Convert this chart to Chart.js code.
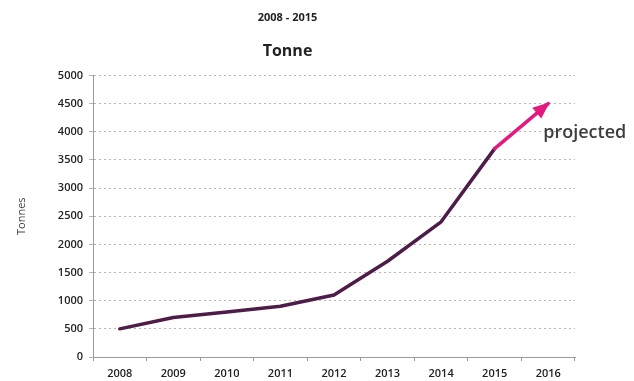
<!DOCTYPE html>
<html>
<head>
<meta charset="utf-8">
<script src="https://cdn.jsdelivr.net/npm/chart.js@4/dist/chart.umd.min.js"></script>
<style>
  html, body { margin: 0; padding: 0; background: #fff; }
  #wrap { width: 634px; height: 381px; }
</style>
</head>
<body>
<div id="wrap"><canvas id="chart"></canvas></div>
<script>
  // data
  var years = ['2008', '2009', '2010', '2011', '2012', '2013', '2014', '2015', '2016'];
  var tonnes = [500, 700, 800, 900, 1100, 1700, 2400, 3700, 4500];
  var projectedFrom = 7; // index of last actual year (2015)

  var FONT = '"Open Sans", "Liberation Sans", sans-serif';
  var DARK = '#4e1c49';
  var PINK = '#e3197f';

  // arrow head + "projected" note at the end of the line
  var arrowPlugin = {
    id: 'arrow',
    afterDatasetsDraw: function(chart) {
      var pts = chart.getDatasetMeta(0).data;
      var a = pts[pts.length - 2], b = pts[pts.length - 1];
      var ang = Math.atan2(b.y - a.y, b.x - a.x);
      var len = 15, half = 7;
      var ctx = chart.ctx;
      ctx.save();
      ctx.fillStyle = PINK;
      ctx.beginPath();
      ctx.moveTo(b.x + 2 * Math.cos(ang), b.y + 2 * Math.sin(ang));
      ctx.lineTo(b.x - len * Math.cos(ang) - half * Math.sin(ang), b.y - len * Math.sin(ang) + half * Math.cos(ang));
      ctx.lineTo(b.x - len * Math.cos(ang) + half * Math.sin(ang), b.y - len * Math.sin(ang) - half * Math.cos(ang));
      ctx.closePath();
      ctx.fill();
      ctx.fillStyle = '#3d3d3d';
      ctx.font = '600 18px ' + FONT;
      ctx.textBaseline = 'middle';
      ctx.textAlign = 'left';
      ctx.fillText('projected', b.x - 5, b.y + 29);
      ctx.restore();
    }
  };

  new Chart(document.getElementById('chart'), {
    type: 'line',
    data: {
      labels: years,
      datasets: [{
        data: tonnes,
        borderColor: DARK,
        borderWidth: 3.5,
        borderCapStyle: 'round',
        borderJoinStyle: 'round',
        tension: 0,
        pointRadius: 0,
        segment: {
          borderColor: function(c) { return c.p0DataIndex >= projectedFrom ? PINK : DARK; }
        }
      }]
    },
    options: {
      responsive: true,
      maintainAspectRatio: false,
      animation: false,
      layout: { padding: { right: 59 } },
      plugins: {
        legend: { display: false },
        tooltip: { enabled: false },
        title: {
          display: true,
          text: '2008 - 2015',
          color: '#222',
          font: { family: FONT, size: 11, weight: 'bold' },
          padding: { top: 11, bottom: 12 }
        },
        subtitle: {
          display: true,
          text: 'Tonne',
          color: '#222',
          font: { family: FONT, size: 16, weight: 'bold' },
          padding: { top: 6, bottom: 14 }
        }
      },
      scales: {
        x: {
          offset: true,
          afterFit: function(s) { s.height = 24; },
          grid: { offset: true, drawOnChartArea: false, drawTicks: true, tickLength: 4, color: '#9a9a9a' },
          border: { color: '#9a9a9a', width: 1 },
          ticks: { color: '#222', padding: 6, font: { family: FONT, size: 11, weight: '600' }, maxRotation: 0 }
        },
        y: {
          min: 0,
          max: 5000,
          afterFit: function(s) { s.width = 93; },
          grid: { color: '#b5b5b5', tickLength: 4 },
          border: { color: '#9a9a9a', width: 1, dash: [2, 3] },
          ticks: {
            stepSize: 500,
            color: '#222',
            padding: 6,
            font: { family: FONT, size: 11, weight: '600' },
            callback: function(v) { return String(v); }
          },
          title: {
            display: true,
            text: 'Tonnes',
            color: '#444',
            font: { family: FONT, size: 11 },
            padding: { top: 15, bottom: 0 }
          }
        }
      }
    },
    plugins: [arrowPlugin]
  });
</script>
</body>
</html>
